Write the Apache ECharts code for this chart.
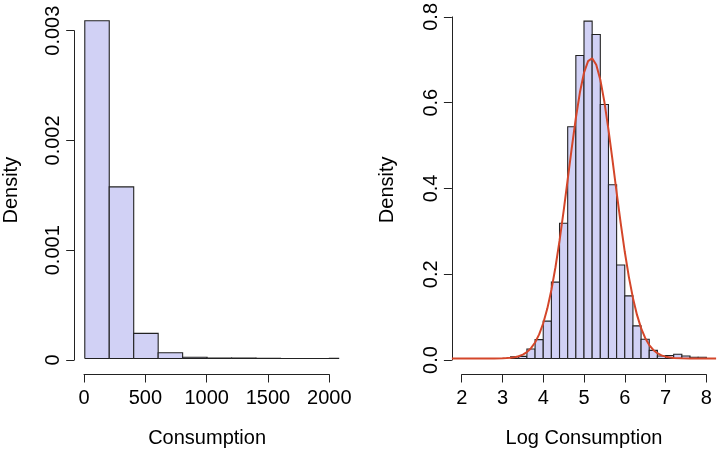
<!DOCTYPE html>
<html>
<head>
<meta charset="utf-8">
<script src="https://cdn.jsdelivr.net/npm/echarts@6/dist/echarts.min.js"></script>
<style>
html,body{margin:0;padding:0;background:#fff;}
#chart{width:719px;height:453px;}
</style>
</head>
<body>
<div id="chart"></div>
<script>
// ---- data ----
const leftBreaks = [0, 200, 400, 600, 800, 1000, 1200, 1400, 1600, 1800, 2000, 2200];
const leftDensity = [0.00309, 0.00157, 0.000230, 0.000053, 0.000012, 0.000005, 0.000005, 0.000002, 0.000001, 0.000001, 0.000002];
const leftXTicks = [0, 500, 1000, 1500, 2000];
const leftYTicks = [0, 0.001, 0.002, 0.003];

const rightBreaks = [3.2, 3.4, 3.6, 3.8, 4.0, 4.2, 4.4, 4.6, 4.8, 5.0, 5.2, 5.4, 5.6, 5.8, 6.0, 6.2, 6.4, 6.6, 6.8, 7.0, 7.2, 7.4, 7.6, 7.8, 8.0];
const rightDensity = [0.004, 0.005, 0.022, 0.044, 0.087, 0.178, 0.315, 0.540, 0.706, 0.786, 0.755, 0.592, 0.405, 0.218, 0.146, 0.076, 0.045, 0.019, 0.006, 0.007, 0.010, 0.006, 0.003, 0.003];
const rightXTicks = [2, 3, 4, 5, 6, 7, 8];
const rightYTicks = [0.0, 0.2, 0.4, 0.6, 0.8];

const curveX = [1.76, 2.0, 2.5, 2.8, 3.0, 3.1, 3.2, 3.3, 3.4, 3.5, 3.6, 3.7, 3.8, 3.9, 4.0, 4.1, 4.2, 4.3, 4.4, 4.5, 4.6, 4.7, 4.8, 4.9, 5.0, 5.1, 5.2, 5.3, 5.4, 5.5, 5.6, 5.7, 5.8, 5.9, 6.0, 6.1, 6.2, 6.3, 6.4, 6.5, 6.6, 6.7, 6.8, 6.9, 7.0, 7.2, 7.4, 7.6, 8.0, 8.24];
const curveY = [0, 0, 0, 0.0001, 0.0005, 0.0009, 0.0017, 0.0030, 0.0053, 0.0091, 0.0150, 0.0241, 0.0373, 0.0562, 0.0821, 0.1163, 0.1597, 0.2126, 0.2745, 0.3436, 0.4171, 0.4909, 0.5604, 0.6203, 0.6659, 0.6930, 0.6995, 0.6846, 0.6497, 0.5979, 0.5335, 0.4617, 0.3873, 0.3152, 0.2487, 0.1903, 0.1412, 0.1016, 0.0708, 0.0479, 0.0314, 0.0200, 0.0123, 0.0074, 0.0043, 0.0013, 0.0004, 0.0001, 0, 0];

const xTitleLeft = 'Consumption';
const xTitleRight = 'Log Consumption';
const yTitle = 'Density';

// ---- styles ----
const FONT = '"Liberation Sans", Arial, Helvetica, sans-serif';
const FS = 20;
const BAR_FILL = '#d1d1f5';
const BAR_STROKE = '#222222';
const CURVE = '#d4462a';
const AXIS = '#222222';

function histData(breaks, dens) {
  return dens.map((d, i) => [breaks[i], breaks[i + 1], d]);
}

function renderHist(params, api) {
  const x0 = api.value(0), x1 = api.value(1), y = api.value(2);
  const p0 = api.coord([x0, y]);
  const p1 = api.coord([x1, 0]);
  const cs = params.coordSys;
  let left = Math.max(p0[0], cs.x);
  let right = Math.min(p1[0], cs.x + cs.width);
  if (right <= left) return null;
  const clipR = p1[0] > cs.x + cs.width;
  const top = p0[1], bottom = p1[1];
  const children = [{
    type: 'rect',
    shape: { x: left, y: top, width: right - left, height: bottom - top },
    style: { fill: BAR_FILL, stroke: null }
  }];
  const pts = clipR
    ? [[right, bottom], [left, bottom], [left, top], [right, top]]
    : [[left, bottom], [left, top], [right, top], [right, bottom], [left, bottom]];
  children.push({
    type: 'polyline',
    shape: { points: pts },
    style: { stroke: BAR_STROKE, lineWidth: 1.1, fill: null }
  });
  return { type: 'group', children: children };
}

const hidden = { show: false };
const textBase = { fontFamily: FONT, fontSize: FS, color: '#000' };

function plotAxes(gridIndex, xmin, xmax, ymin, ymax, xname) {
  return {
    x: {
      type: 'value', gridIndex: gridIndex, min: xmin, max: xmax,
      axisLine: hidden, axisTick: hidden, axisLabel: hidden, splitLine: hidden,
      name: xname, nameLocation: 'middle', nameGap: 56,
      nameTextStyle: Object.assign({ lineHeight: FS }, textBase)
    },
    y: {
      type: 'value', gridIndex: gridIndex, min: ymin, max: ymax,
      axisLine: hidden, axisTick: hidden, axisLabel: hidden, splitLine: hidden,
      name: yTitle, nameLocation: 'middle', nameGap: 54,
      nameTextStyle: Object.assign({ lineHeight: FS }, textBase)
    }
  };
}

function yAxisOnly(gridIndex, ticks, fmt) {
  return {
    x: { type: 'value', gridIndex: gridIndex, show: false, min: 0, max: 1 },
    y: {
      type: 'value', gridIndex: gridIndex,
      min: ticks[0], max: ticks[ticks.length - 1], interval: ticks[1] - ticks[0],
      axisLine: { show: true, lineStyle: { color: AXIS, width: 1 } },
      axisTick: { show: true, length: 8, lineStyle: { color: AXIS, width: 1 } },
      splitLine: hidden,
      axisLabel: Object.assign({ rotate: 90, margin: 10.5, lineHeight: FS, formatter: fmt, showMinLabel: true, showMaxLabel: true }, textBase)
    }
  };
}

function xAxisOnly(gridIndex, ticks) {
  return {
    x: {
      type: 'value', gridIndex: gridIndex,
      min: ticks[0], max: ticks[ticks.length - 1], interval: ticks[1] - ticks[0],
      axisLine: { show: true, onZero: false, lineStyle: { color: AXIS, width: 1 } },
      axisTick: { show: true, length: 8, lineStyle: { color: AXIS, width: 1 } },
      splitLine: hidden,
      axisLabel: Object.assign({ margin: 14, lineHeight: FS, formatter: v => String(v), showMinLabel: true, showMaxLabel: true }, textBase)
    },
    y: { type: 'value', gridIndex: gridIndex, show: false, min: 0, max: 1 }
  };
}

const lp = plotAxes(0, -80, 2080, -0.000123, 0.003203, xTitleLeft);
const ly = yAxisOnly(1, leftYTicks, v => (v === 0 ? '0' : String(+v.toFixed(3))));
const lx = xAxisOnly(2, leftXTicks);
const rp = plotAxes(3, 1.76, 8.24, -0.03144, 0.81744, xTitleRight);
const ry = yAxisOnly(4, rightYTicks, v => v.toFixed(1));
const rx = xAxisOnly(5, rightXTicks);

const option = {
  animation: false,
  backgroundColor: '#ffffff',
  grid: [
    { left: 74.2, top: 8.4, width: 265.0, height: 365.1 },
    { left: 74.2, top: 30.7, width: 10, height: 329.3 },
    { left: 84.0, top: 373.5, width: 245.3, height: 1 },
    { left: 451.9, top: 7.68, width: 264.2, height: 365.87 },
    { left: 451.9, top: 15.2, width: 10, height: 344.8 },
    { left: 461.7, top: 373.5, width: 244.6, height: 1 }
  ],
  xAxis: [lp.x, ly.x, lx.x, rp.x, ry.x, rx.x],
  yAxis: [lp.y, ly.y, lx.y, rp.y, ry.y, rx.y],
  series: [
    {
      type: 'custom', xAxisIndex: 0, yAxisIndex: 0,
      data: histData(leftBreaks, leftDensity),
      encode: { x: [0, 1], y: 2 },
      renderItem: renderHist, silent: true
    },
    {
      type: 'custom', xAxisIndex: 3, yAxisIndex: 3,
      data: histData(rightBreaks, rightDensity),
      encode: { x: [0, 1], y: 2 },
      renderItem: renderHist, silent: true
    },
    {
      type: 'line', xAxisIndex: 3, yAxisIndex: 3,
      data: curveX.map((x, i) => [x, curveY[i]]),
      showSymbol: false, symbol: 'none', smooth: false, clip: true,
      lineStyle: { color: CURVE, width: 2 },
      z: 5, silent: true
    }
  ]
};

const chart = echarts.init(document.getElementById('chart'), null, { renderer: 'canvas' });
chart.setOption(option);
</script>
</body>
</html>
